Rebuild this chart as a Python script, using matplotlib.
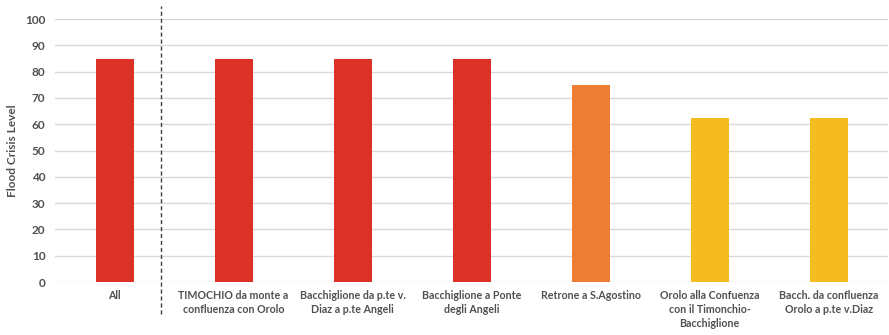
import matplotlib.pyplot as plt

plt.rcParams['font.family'] = ['Lato', 'DejaVu Sans']

categories = [
    'All',
    'TIMOCHIO da monte a\nconfluenza con Orolo',
    'Bacchiglione da p.te v.\nDiaz a p.te Angeli',
    'Bacchiglione a Ponte\ndegli Angeli',
    'Retrone a S.Agostino',
    'Orolo alla Confuenza\ncon il Timonchio-\nBacchiglione',
    'Bacch. da confluenza\nOrolo a p.te v.Diaz',
]
levels = [85, 85, 85, 85, 75, 62.5, 62.5]
colors = ['#DC3126', '#DC3126', '#DC3126', '#DC3126', '#EC7D32', '#F5BC22', '#F5BC22']

text_color = '#505050'

fig = plt.figure(figsize=(8.89, 3.35), dpi=100)
ax = fig.add_axes([0.062, 0.158, 0.937, 0.785])

x = list(range(len(categories)))
ax.bar(x, levels, width=0.32, color=colors, zorder=3)

ax.set_xlim(-0.5, len(categories) - 0.5)
ax.set_ylim(0, 100)
ax.set_yticks(range(0, 101, 10))
ax.yaxis.grid(True, color='#D9D9D9', linewidth=1, zorder=0)
ax.set_axisbelow(True)
for s in ax.spines.values():
    s.set_visible(False)
ax.tick_params(axis='both', length=0, colors=text_color, labelsize=7.7)
ax.tick_params(axis='y', pad=7, labelsize=8.5)
ax.tick_params(axis='x', pad=6)
ax.set_xticks(x)
ax.set_xticklabels(categories, fontweight='bold', color=text_color, va='top',
                   linespacing=1.3)
for lbl in ax.get_yticklabels():
    lbl.set_fontweight('bold')
ax.set_ylabel('Flood Crisis Level', fontsize=8.5, fontweight='bold',
              color=text_color, labelpad=5)

# dashed separator between "All" and the individual sections
ax.plot([0.39, 0.39], [-0.12, 1.05], transform=ax.get_xaxis_transform(),
        color='#404040', linestyle=(0, (3, 2)), linewidth=1, clip_on=False)

fig.savefig('out.png', dpi=100)
